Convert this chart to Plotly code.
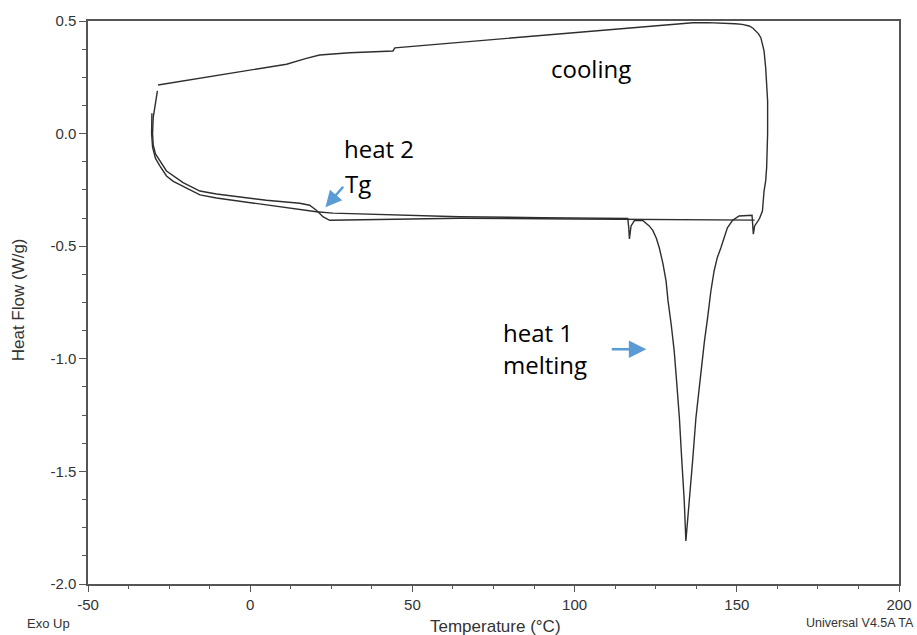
import plotly.graph_objects as go

# ---- data ----
heat1_T = [-30.3, -30.4, -30.1, -29.2, -27.8, -25.8, -23.7, -20.7, -15.5, -10.4, -5.3, 5.0, 15.3,
           20.4, 25.5, 35.8, 64.5, 90.0, 110.0, 116.4, 116.7, 116.9, 117.4, 118.5, 121.0, 123.0,
           124.1, 125.2, 126.1, 127.2, 128.2, 128.8, 129.8, 130.7, 131.5, 132.3, 133.0, 133.8, 134.3,
           135.4, 136.4, 137.4, 138.2, 139.0, 140.0, 141.0, 142.0, 143.0, 144.0, 145.1, 146.1, 147.1,
           148.7, 150.7, 154.7, 154.9, 155.1, 155.5, 156.2, 156.9]
heat1_H = [0.09, 0.0, -0.06, -0.11, -0.144, -0.188, -0.212, -0.234, -0.272, -0.286, -0.296, -0.317, -0.335,
           -0.347, -0.353, -0.358, -0.369, -0.373, -0.376, -0.377, -0.42, -0.468, -0.41, -0.385, -0.386, -0.41,
           -0.43, -0.465, -0.507, -0.575, -0.655, -0.743, -0.85, -0.965, -1.11, -1.262, -1.44, -1.631, -1.809,
           -1.631, -1.45, -1.262, -1.15, -1.04, -0.925, -0.818, -0.70, -0.61, -0.55, -0.507, -0.46, -0.418,
           -0.385, -0.366, -0.363, -0.40, -0.447, -0.41, -0.396, -0.38]

cool_T = [156.9, 157.9, 158.4, 158.9, 159.2, 159.5, 159.5, 159.3, 158.9, 158.4, 158.0, 157.4, 156.7,
          155.9, 155.0, 153.8, 151.7, 149.5, 146.6, 141.0, 136.4, 125.0, 110.0, 95.3, 80.0, 64.5,
          46.1, 44.6, 44.0, 30.7, 21.4, 17.3, 11.2, -5.3, -28.4]
cool_H = [-0.38, -0.344, -0.255, -0.21, -0.151, 0.0, 0.145, 0.22, 0.293, 0.367, 0.395, 0.426, 0.443,
          0.456, 0.468, 0.478, 0.485, 0.488, 0.49, 0.493, 0.492, 0.478, 0.46, 0.441, 0.422, 0.404,
          0.383, 0.381, 0.367, 0.359, 0.349, 0.334, 0.308, 0.27, 0.216]

heat2_T = [-28.6, -29.1, -29.9, -30.1, -29.9, -29.2, -27.8, -25.8, -20.7, -15.5, -10.4, -5.3, 5.0,
           15.3, 18.3, 20.4, 22.5, 24.5, 30.0, 64.5, 100.0, 130.0, 150.0, 155.5]
heat2_H = [0.19, 0.145, 0.071, 0.0, -0.05, -0.09, -0.122, -0.166, -0.218, -0.255, -0.268, -0.278, -0.296,
           -0.309, -0.318, -0.34, -0.37, -0.385, -0.384, -0.376, -0.379, -0.381, -0.382, -0.384]

x_tick_vals = [-50, 0, 50, 100, 150, 200]
x_tick_text = ["-50", "0", "50", "100", "150", "200"]
y_tick_vals = [-2.0, -1.5, -1.0, -0.5, 0.0, 0.5]
y_tick_text = ["-2.0", "-1.5", "-1.0", "-0.5", "0.0", "0.5"]
x_minor = [-50 + 12.5 * i for i in range(21)]
y_minor = [-2.0 + 0.125 * i for i in range(21)]

LINE = "#2e2e2e"
AX = "#555555"
BLUE = "#5b9bd5"
AXFONT = "Liberation Sans, Arial, sans-serif"
NOTEFONT = "Open Sans, Noto Sans, sans-serif"

fig = go.Figure()
for name, T, H in [("heat 1", heat1_T, heat1_H), ("cooling", cool_T, cool_H), ("heat 2", heat2_T, heat2_H)]:
    fig.add_trace(go.Scatter(x=T, y=H, mode="lines", name=name,
                             line=dict(color=LINE, width=1.4), showlegend=False))

axis_common = dict(showline=True, linecolor=AX, linewidth=1.5, mirror=True, showgrid=False,
                   zeroline=False, ticks="outside", tickcolor=AX, tickwidth=1.3, automargin=False,
                   tickfont=dict(family=AXFONT, size=15, color="#333333"))

fig.update_xaxes(range=[-50, 200], tickmode="array", tickvals=x_tick_vals, ticktext=x_tick_text,
                 ticklen=6, minor=dict(tickmode="array", tickvals=x_minor, ticks="outside", ticklen=3,
                                       tickcolor=AX, tickwidth=1.2),
                 **axis_common)
fig.update_yaxes(range=[-2.0, 0.5], tickmode="array", tickvals=y_tick_vals, ticktext=y_tick_text,
                 ticklen=7, minor=dict(tickmode="array", tickvals=y_minor, ticks="outside", ticklen=4,
                                       tickcolor=AX, tickwidth=1.2),
                 **axis_common)

annotations = [
    dict(text="Heat Flow (W/g)", xref="paper", yref="paper", x=-0.0863, y=0.504, textangle=-90,
         showarrow=False, font=dict(family=AXFONT, size=17, color="#333333"),
         xanchor="center", yanchor="middle"),
    dict(text="Temperature (°C)", xref="paper", yref="paper", x=0.502, y=-0.0758,
         showarrow=False, font=dict(family=AXFONT, size=17, color="#333333"),
         xanchor="center", yanchor="middle"),
    dict(text="Exo Up", xref="paper", yref="paper", x=-0.0775, y=-0.071,
         showarrow=False, font=dict(family=AXFONT, size=13, color="#333333"),
         xanchor="left", yanchor="middle"),
    dict(text="Universal V4.5A TA", xref="paper", yref="paper", x=1.021, y=-0.069,
         showarrow=False, font=dict(family=AXFONT, size=12.5, color="#333333"),
         xanchor="right", yanchor="middle"),
    dict(text="cooling", x=105.2, y=0.289, showarrow=False,
         font=dict(family=NOTEFONT, size=24, color="black"), xanchor="center", yanchor="middle"),
    dict(text="heat 2", x=28.3, y=-0.068, showarrow=False,
         font=dict(family=NOTEFONT, size=24, color="black"), xanchor="left", yanchor="middle"),
    dict(text="Tg", x=28.6, y=-0.223, showarrow=False,
         font=dict(family=NOTEFONT, size=24, color="black"), xanchor="left", yanchor="middle"),
    dict(text="heat 1", x=77.3, y=-0.885, showarrow=False,
         font=dict(family=NOTEFONT, size=24, color="black"), xanchor="left", yanchor="middle"),
    dict(text="melting", x=77.3, y=-1.024, showarrow=False,
         font=dict(family=NOTEFONT, size=24, color="black"), xanchor="left", yanchor="middle"),
    dict(text="", x=23.2, y=-0.327, ax=19, ay=-22, showarrow=True, arrowhead=2,
         arrowsize=1.3, arrowwidth=2.5, arrowcolor=BLUE, standoff=0),
    dict(text="", x=122.1, y=-0.958, ax=-36, ay=0, showarrow=True, arrowhead=2,
         arrowsize=1.4, arrowwidth=2.5, arrowcolor=BLUE, standoff=0),
]

fig.update_layout(width=917, height=635, margin=dict(l=88, r=18, t=21, b=51),
                  plot_bgcolor="white", paper_bgcolor="white", annotations=annotations)

fig.write_html("out.html")
